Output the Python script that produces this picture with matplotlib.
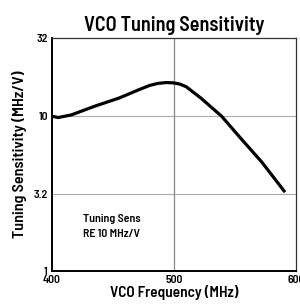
#! /usr/bin/env python3

import matplotlib
matplotlib.use('Agg')
import matplotlib.pyplot as plt

# curve
freq_mhz = [400, 405, 416, 435, 455, 471, 480, 487, 494, 500, 505, 510, 522, 539, 555, 572, 591]
sens_mhz_per_v = [10.0, 9.8, 10.2, 11.6, 13.1, 14.8, 15.8, 16.3, 16.5, 16.4, 16.1, 15.5, 13.1, 10.0, 7.15, 5.05, 3.23]

y_ticks = [1, 3.16, 10, 32]
y_tick_labels = ['1', '3.2', '10', '32']
x_ticks = [400, 500, 600]

plt.rcParams['font.family'] = ['Barlow Semi Condensed', 'Archivo Narrow', 'DejaVu Sans']
W = 600

fig = plt.figure(figsize=(3.0, 3.06), dpi=100)
ax = fig.add_axes([52/300, 1 - 271/306, 244/300, 233/306])

ax.plot(freq_mhz, sens_mhz_per_v, color='black', lw=2.3, solid_capstyle='butt')

ax.set_yscale('log')
ax.set_xlim(400, 600)
ax.set_ylim(1, 32)
ax.set_yticks(y_ticks)
ax.set_yticklabels(y_tick_labels)
ax.yaxis.set_minor_locator(matplotlib.ticker.NullLocator())
ax.set_xticks(x_ticks)
ax.tick_params(length=0, labelsize=8.5, pad=3)
for lab in ax.get_yticklabels() + ax.get_xticklabels():
    lab.set_fontweight(W)

# grid lines at 3.2, 10 and 500 only
for yv in [3.16, 10]:
    ax.axhline(yv, color='#aaaaaa', lw=0.8, zorder=0)
ax.axvline(500, color='#888888', lw=0.9, zorder=0)

for side in ['left', 'bottom']:
    ax.spines[side].set_linewidth(1.4)
for side in ['top', 'right']:
    ax.spines[side].set_linewidth(0.9)
    ax.spines[side].set_color('#333333')

ax.set_title('VCO Tuning Sensitivity', fontsize=14.5, fontweight=W, pad=5)
ax.set_xlabel('VCO Frequency (MHz)', fontsize=11, fontweight=W, labelpad=0)
ax.set_ylabel('Tuning Sensitivity (MHz/V)', fontsize=11.5, fontweight=W, labelpad=5)

ax.text(0.127, 0.19, 'Tuning Sens\nRE 10 MHz/V', transform=ax.transAxes,
        fontsize=8.5, fontweight=W, linespacing=1.6, va='center', ha='left')

fig.savefig('out.png', dpi=100)
plt.close('all')
